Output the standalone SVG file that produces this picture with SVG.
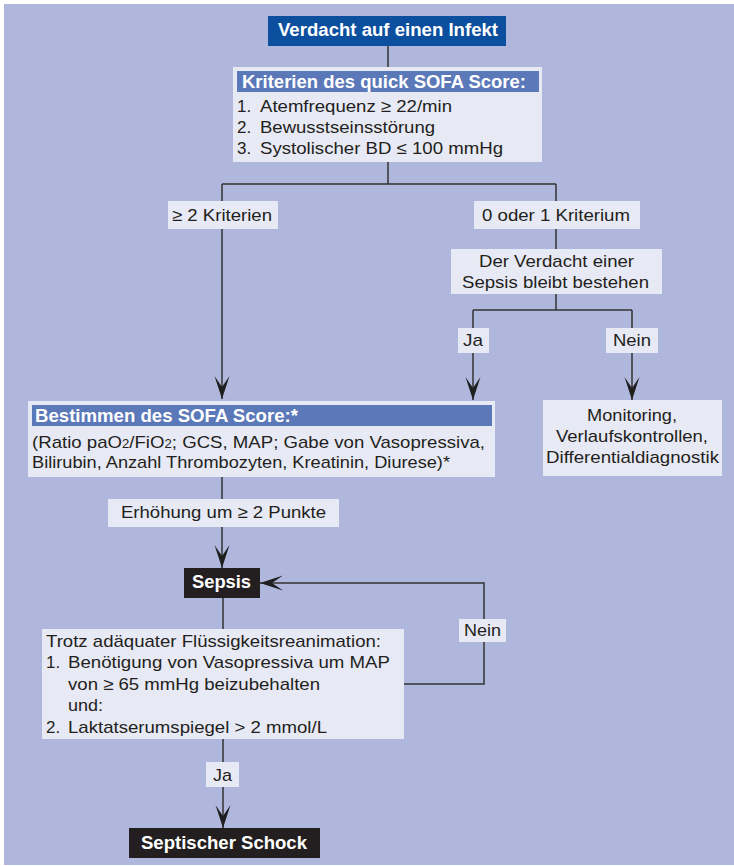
<svg xmlns="http://www.w3.org/2000/svg" width="734" height="866" viewBox="0 0 734 866">
<defs>
<style>
.bg{fill:#afb8dc}
.lb{fill:#e7e9f4}
.bar{fill:#5b78b8}
.dk{fill:#0b4f9e}
.blk{fill:#231f20}
.t{font-family:"Liberation Sans",Arial,sans-serif;font-size:17px;fill:#231f20}
.tb{font-family:"Liberation Sans",Arial,sans-serif;font-size:18px;font-weight:bold;fill:#fff}
.ln{fill:none;stroke:#333;stroke-width:1.5}
</style>
<marker id="ah" viewBox="-24 -8 25 16" markerWidth="25" markerHeight="16" refX="0" refY="0" orient="auto" markerUnits="userSpaceOnUse"><path d="M0,0 L-23,-7.5 L-12,0 L-23,7.5 Z" fill="#1f1f1f"/></marker>
</defs>
<rect x="0" y="0" width="734" height="866" fill="#fff"/>
<rect class="bg" x="4" y="4" width="730" height="861"/>

<g id="connectors">
<path class="ln" d="M388,46 V67"/>
<path class="ln" d="M388,162 V184 M222,184 H556"/>
<path class="ln" d="M222,184 V399" marker-end="url(#ah)"/>
<path class="ln" d="M556,184 V249"/>
<path class="ln" d="M556,294 V310 M473,310 H632"/>
<path class="ln" d="M473,310 V400" marker-end="url(#ah)"/>
<path class="ln" d="M632,310 V400" marker-end="url(#ah)"/>
<path class="ln" d="M222,477 V568" marker-end="url(#ah)"/>
<path class="ln" d="M223,598 V629"/>
<path class="ln" d="M404,684 H484 V583 H260" marker-end="url(#ah)"/>
<path class="ln" d="M223,739 V828" marker-end="url(#ah)"/>
</g>

<g id="infekt">
<rect class="dk" x="268" y="16" width="238" height="30"/>
<text class="tb" x="278" y="36" textLength="220" lengthAdjust="spacingAndGlyphs">Verdacht auf einen Infekt</text>
</g>

<g id="qsofa">
<rect class="lb" x="233" y="67" width="309" height="95"/>
<rect class="bar" x="237" y="71" width="302" height="21"/>
<text class="tb" x="242" y="88" textLength="284" lengthAdjust="spacingAndGlyphs">Kriterien des quick SOFA Score:</text>
<text class="t" x="237" y="112">1.</text>
<text class="t" x="260" y="112" textLength="192" lengthAdjust="spacingAndGlyphs">Atemfrequenz ≥ 22/min</text>
<text class="t" x="237" y="133">2.</text>
<text class="t" x="260" y="133" textLength="175" lengthAdjust="spacingAndGlyphs">Bewusstseinsstörung</text>
<text class="t" x="237" y="154">3.</text>
<text class="t" x="260" y="154" textLength="243" lengthAdjust="spacingAndGlyphs">Systolischer BD ≤ 100 mmHg</text>
</g>

<g id="lbl-2krit">
<rect class="lb" x="168" y="201" width="110" height="28"/>
<text class="t" x="172" y="221" textLength="100" lengthAdjust="spacingAndGlyphs">≥ 2 Kriterien</text>
</g>

<g id="lbl-01krit">
<rect class="lb" x="474" y="201" width="166" height="28"/>
<text class="t" x="482" y="221" textLength="148" lengthAdjust="spacingAndGlyphs">0 oder 1 Kriterium</text>
</g>

<g id="verdacht">
<rect class="lb" x="451" y="249" width="211" height="45"/>
<text class="t" x="479" y="267" textLength="155" lengthAdjust="spacingAndGlyphs">Der Verdacht einer</text>
<text class="t" x="462" y="288" textLength="187" lengthAdjust="spacingAndGlyphs">Sepsis bleibt bestehen</text>
</g>

<g id="lbl-ja1">
<rect class="lb" x="458" y="328" width="31" height="25"/>
<text class="t" x="463" y="346" textLength="20" lengthAdjust="spacingAndGlyphs">Ja</text>
</g>

<g id="lbl-nein1">
<rect class="lb" x="606" y="328" width="52" height="25"/>
<text class="t" x="613" y="346" textLength="38" lengthAdjust="spacingAndGlyphs">Nein</text>
</g>

<g id="sofa">
<rect class="lb" x="28" y="401" width="467" height="76"/>
<rect class="bar" x="32" y="405" width="460" height="21"/>
<text class="tb" x="35" y="422" textLength="263" lengthAdjust="spacingAndGlyphs">Bestimmen des SOFA Score:*</text>
<text class="t" x="32" y="448" textLength="453" lengthAdjust="spacingAndGlyphs">(Ratio paO<tspan font-size="12">2</tspan>/FiO<tspan font-size="12">2</tspan>; GCS, MAP; Gabe von Vasopressiva,</text>
<text class="t" x="32" y="468" textLength="418" lengthAdjust="spacingAndGlyphs">Bilirubin, Anzahl Thrombozyten, Kreatinin, Diurese)*</text>
</g>

<g id="monitoring">
<rect class="lb" x="543" y="400" width="179" height="76"/>
<text class="t" x="587" y="421" textLength="90" lengthAdjust="spacingAndGlyphs">Monitoring,</text>
<text class="t" x="556" y="442" textLength="152" lengthAdjust="spacingAndGlyphs">Verlaufskontrollen,</text>
<text class="t" x="546" y="463" textLength="173" lengthAdjust="spacingAndGlyphs">Differentialdiagnostik</text>
</g>

<g id="lbl-erhoehung">
<rect class="lb" x="108" y="499" width="231" height="28"/>
<text class="t" x="121" y="518" textLength="205" lengthAdjust="spacingAndGlyphs">Erhöhung um ≥ 2 Punkte</text>
</g>

<g id="sepsis">
<rect class="blk" x="184" y="568" width="76" height="30"/>
<text class="tb" x="192" y="588" textLength="59" lengthAdjust="spacingAndGlyphs">Sepsis</text>
</g>

<g id="trotz">
<rect class="lb" x="42" y="629" width="362" height="110"/>
<text class="t" x="46" y="647" textLength="335" lengthAdjust="spacingAndGlyphs">Trotz adäquater Flüssigkeitsreanimation:</text>
<text class="t" x="46" y="668">1.</text>
<text class="t" x="68" y="668" textLength="322" lengthAdjust="spacingAndGlyphs">Benötigung von Vasopressiva um MAP</text>
<text class="t" x="68" y="690" textLength="252" lengthAdjust="spacingAndGlyphs">von ≥ 65 mmHg beizubehalten</text>
<text class="t" x="68" y="711" textLength="35" lengthAdjust="spacingAndGlyphs">und:</text>
<text class="t" x="46" y="733">2.</text>
<text class="t" x="68" y="733" textLength="259" lengthAdjust="spacingAndGlyphs">Laktatserumspiegel &gt; 2 mmol/L</text>
</g>

<g id="lbl-nein2">
<rect class="lb" x="459" y="619" width="47" height="23"/>
<text class="t" x="464" y="636" textLength="37" lengthAdjust="spacingAndGlyphs">Nein</text>
</g>

<g id="lbl-ja2">
<rect class="lb" x="206" y="762" width="33" height="25"/>
<text class="t" x="213" y="781" textLength="19" lengthAdjust="spacingAndGlyphs">Ja</text>
</g>

<g id="schock">
<rect class="blk" x="129" y="828" width="191" height="30"/>
<text class="tb" x="141" y="849" textLength="166" lengthAdjust="spacingAndGlyphs">Septischer Schock</text>
</g>
</svg>
